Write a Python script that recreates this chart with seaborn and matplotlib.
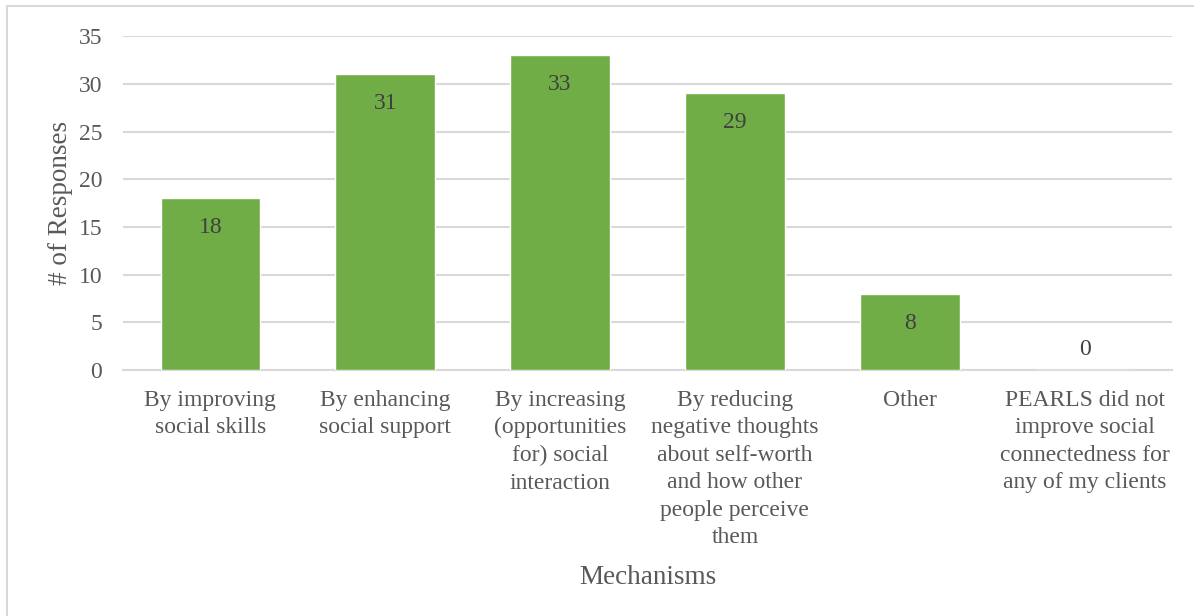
import matplotlib
matplotlib.use('Agg')
import matplotlib.pyplot as plt
import seaborn as sns
import pandas as pd
from matplotlib.lines import Line2D

categories = [
    'By improving\nsocial skills',
    'By enhancing\nsocial support',
    'By increasing\n(opportunities\nfor) social\ninteraction',
    'By reducing\nnegative thoughts\nabout self-worth\nand how other\npeople perceive\nthem',
    'Other',
    'PEARLS did not\nimprove social\nconnectedness for\nany of my clients',
]
responses = [18, 31, 33, 29, 8, 0]


def main():
    df = pd.DataFrame({'Mechanism': categories, 'Responses': responses})

    sns.set_style('white')
    plt.rcParams['font.family'] = ['Liberation Serif', 'DejaVu Serif']
    text_col = '#595959'

    fig = plt.figure(figsize=(11.94, 6.16), dpi=100)
    ax = fig.add_axes([0.103, 0.399, 0.8786, 0.5424])

    sns.barplot(data=df, x='Mechanism', y='Responses', color='#70AD47',
                saturation=1, width=0.57, ax=ax, zorder=3)

    ax.set_ylim(0, 35)
    ax.set_yticks(range(0, 36, 5))
    ax.grid(axis='y', color='#D9D9D9', linewidth=1.5, zorder=0)
    ax.grid(axis='x', visible=False)
    for s in ['top', 'right', 'left']:
        ax.spines[s].set_visible(False)
    ax.spines['bottom'].set_color('#D9D9D9')
    ax.spines['bottom'].set_linewidth(1.5)

    ax.tick_params(axis='y', length=0, pad=15, labelsize=17, labelcolor=text_col)
    ax.tick_params(axis='x', length=0, pad=14, labelsize=17, labelcolor=text_col)
    for lbl in ax.get_xticklabels():
        lbl.set_linespacing(1.41)
        lbl.set_ha('center')

    # value labels, inside the top of each bar
    for i, v in enumerate(responses):
        off = -21 if v > 0 else 15
        ax.annotate(str(v), (i, v), xytext=(0, off), textcoords='offset points',
                    ha='center', va='center', fontsize=17, color='#404040', zorder=4)

    ax.set_ylabel('# of Responses', fontsize=19.5, color=text_col)
    ax.yaxis.set_label_coords(-0.060, 0.5)
    ax.yaxis.label.set_va('center')
    ax.set_xlabel('Mechanisms', fontsize=19.5, color=text_col)
    ax.xaxis.set_label_coords(0.5, -0.62)
    ax.xaxis.label.set_va('center')

    # light chart-area border
    fig.add_artist(Line2D([7 / 1194, 1], [1 - 6 / 616, 1 - 6 / 616],
                          transform=fig.transFigure, color='#D9D9D9', linewidth=1.5))
    fig.add_artist(Line2D([7 / 1194, 7 / 1194], [0, 1 - 6 / 616],
                          transform=fig.transFigure, color='#D9D9D9', linewidth=1.5))

    fig.savefig('out.png', dpi=100, facecolor='white')


if __name__ == '__main__':
    main()
